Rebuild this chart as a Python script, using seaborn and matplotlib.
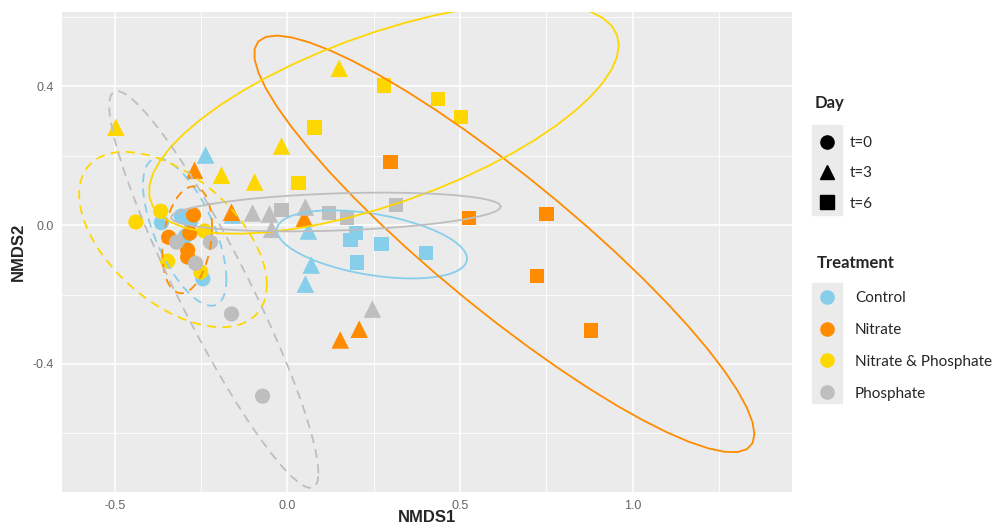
import numpy as np
import pandas as pd
import matplotlib
matplotlib.use("Agg")
import matplotlib.pyplot as plt
from matplotlib import font_manager
from matplotlib.lines import Line2D
from matplotlib.patches import Rectangle
import seaborn as sns

# ─── Data: NMDS scores per treatment ─────────────────────────────────────────
CONTROL_X   = [-0.365, -0.307, -0.295, -0.281, -0.245,
               -0.237, -0.159, 0.061, 0.069, 0.052,
               0.182, 0.199, 0.272, 0.202, 0.402]
CONTROL_Y   = [0.007, 0.026, -0.032, 0.010, -0.155,
               0.202, 0.029, -0.017, -0.115, -0.170,
               -0.043, -0.023, -0.055, -0.107, -0.081]
CONTROL_DAY = ["t=0"] * 5 + ["t=3"] * 5 + ["t=6"] * 5

NITRATE_X   = [-0.272, -0.283, -0.344, -0.289, -0.289,
               -0.269, -0.162, 0.049, 0.153, 0.208,
               0.298, 0.526, 0.751, 0.723, 0.879]
NITRATE_Y   = [0.029, -0.023, -0.035, -0.072, -0.092,
               0.158, 0.037, 0.020, -0.331, -0.300,
               0.182, 0.020, 0.032, -0.147, -0.303]
NITRATE_DAY = ["t=0"] * 5 + ["t=3"] * 5 + ["t=6"] * 5

NP_X   = [-0.439, -0.367, -0.347, -0.240, -0.251,
          -0.497, -0.191, -0.095, -0.017, 0.150,
          0.032, 0.078, 0.280, 0.436, 0.503]
NP_Y   = [0.009, 0.040, -0.104, -0.017, -0.135,
          0.282, 0.144, 0.124, 0.228, 0.452,
          0.121, 0.282, 0.403, 0.363, 0.311]
NP_DAY = ["t=0"] * 5 + ["t=3"] * 5 + ["t=6"] * 5

PHOSPHATE_X   = [-0.321, -0.266, -0.223, -0.162, -0.072,
                 -0.101, -0.052, -0.046, 0.052, 0.246,
                 -0.017, 0.121, 0.173, 0.315]
PHOSPHATE_Y   = [-0.049, -0.110, -0.049, -0.256, -0.493,
                 0.035, 0.032, -0.012, 0.052, -0.242,
                 0.043, 0.035, 0.020, 0.058]
PHOSPHATE_DAY = ["t=0"] * 5 + ["t=3"] * 5 + ["t=6"] * 4

TREATMENTS = ["Control", "Nitrate", "Nitrate & Phosphate", "Phosphate"]
DAYS = ["t=0", "t=3", "t=6"]

# ─── Style ───────────────────────────────────────────────────────────────────
COLORS = {"Control": "#87CEEB", "Nitrate": "#FF8C00",
          "Nitrate & Phosphate": "#FFD700", "Phosphate": "#BEBEBE"}
MARKERS = {"t=0": "o", "t=3": "^", "t=6": "s"}
SIZES = {"t=0": 120, "t=3": 160, "t=6": 110}

sns.set_theme(style="darkgrid")
names = {f.name for f in font_manager.fontManager.ttflist}
AXFONT = "Liberation Sans" if "Liberation Sans" in names else "DejaVu Sans"
LEGFONT = "Lato" if "Lato" in names else "DejaVu Sans"
plt.rcParams.update({
    "font.family": [AXFONT, "DejaVu Sans"],
    "axes.facecolor": "#EBEBEB",
    "figure.facecolor": "white",
})

frames = []
for name, xs, ys, ds in [("Control", CONTROL_X, CONTROL_Y, CONTROL_DAY),
                         ("Nitrate", NITRATE_X, NITRATE_Y, NITRATE_DAY),
                         ("Nitrate & Phosphate", NP_X, NP_Y, NP_DAY),
                         ("Phosphate", PHOSPHATE_X, PHOSPHATE_Y, PHOSPHATE_DAY)]:
    frames.append(pd.DataFrame({"NMDS1": xs, "NMDS2": ys, "Day": ds,
                                "Treatment": name}))
df = pd.concat(frames, ignore_index=True)


# ─── stat_ellipse (type = "t", level = 0.95) ─────────────────────────────────
def cov_trob(x, nu=5, maxit=25, tol=0.01):
    n, p = x.shape
    loc = x.mean(axis=0)
    w = np.ones(n)
    for _ in range(maxit):
        w0 = w
        X = x - loc
        _, d, vt = np.linalg.svd(np.sqrt(w / w.sum())[:, None] * X,
                                 full_matrices=False)
        wX = X @ vt.T @ np.diag(1 / d)
        Q = (wX ** 2).sum(axis=1)
        w = (nu + p) / (nu + Q)
        loc = (w[:, None] * x).sum(axis=0) / w.sum()
        if np.all(np.abs(w - w0) < tol):
            break
    sw = np.sqrt(w)[:, None] * X
    return loc, sw.T @ sw / n


def ellipse_path(x, level=0.95, segments=51):
    center, shape = cov_trob(x)
    dfd = len(x) - 1
    fq = (dfd / 2) * ((1 - level) ** (-2 / dfd) - 1)   # qf(level, 2, dfd)
    radius = np.sqrt(2 * fq)
    t = np.linspace(0, 2 * np.pi, segments + 1)
    circle = np.column_stack([np.cos(t), np.sin(t)])
    L = np.linalg.cholesky(shape)
    return center + radius * circle @ L.T


# ─── Figure ──────────────────────────────────────────────────────────────────
fig = plt.figure(figsize=(9.92, 5.25), dpi=100)
ax = fig.add_axes([0.0625, 0.063, 0.736, 0.914])

sns.scatterplot(data=df, x="NMDS1", y="NMDS2", hue="Treatment", style="Day",
                size="Day", sizes=SIZES, hue_order=TREATMENTS,
                style_order=DAYS, palette=COLORS, markers=MARKERS,
                linewidth=0, alpha=1, legend=False, ax=ax, zorder=3)

for tr in TREATMENTS:
    for day, ls in [("t=0", (0, (5, 3.5))), ("t=6", "-")]:
        sub = df[(df["Treatment"] == tr) & (df["Day"] == day)]
        pts = ellipse_path(sub[["NMDS1", "NMDS2"]].to_numpy())
        ax.plot(pts[:, 0], pts[:, 1], color=COLORS[tr], lw=1.3, ls=ls,
                zorder=4)

ax.set_xlim(-0.653, 1.462)
ax.set_ylim(-0.769, 0.614)
ax.set_xticks([-0.5, 0.0, 0.5, 1.0])
ax.set_xticklabels(["-0.5", "0.0", "0.5", "1.0"])
ax.set_xticks([-0.25, 0.25, 0.75, 1.25], minor=True)
ax.set_yticks([-0.4, 0.0, 0.4])
ax.set_yticklabels(["-0.4", "0.0", "0.4"])
ax.set_yticks([-0.6, -0.2, 0.2, 0.6], minor=True)
ax.grid(which="major", color="white", lw=1.1)
ax.grid(which="minor", color="white", lw=0.6)
for s in ax.spines.values():
    s.set_visible(False)
ax.tick_params(which="major", length=3, width=0.8, color="#555555",
               labelcolor="#666666", labelsize=9, pad=3)
ax.tick_params(which="minor", length=0)
ax.set_xlabel("NMDS1", fontsize=12, fontweight="bold")
ax.set_ylabel("NMDS2", fontsize=12, fontweight="bold")
ax.xaxis.set_label_coords(0.5, -0.053)
ax.xaxis.label.set_va("center")
ax.yaxis.set_label_coords(-0.060, 0.5)
ax.yaxis.label.set_va("center")

# ─── Legends ─────────────────────────────────────────────────────────────────
day_handles = [Line2D([], [], ls="", marker=MARKERS[d], color="black",
                      markersize=10.5 if d == "t=3" else 9.5) for d in DAYS]
tr_handles = [Line2D([], [], ls="", marker="o", color=COLORS[t],
                     markersize=9.5) for t in TREATMENTS]

fig.add_artist(Rectangle((0.8185, 0.5905), 0.0302, 0.1714,
                         transform=fig.transFigure, color="#EBEBEB", zorder=0))
fig.add_artist(Rectangle((0.8185, 0.2324), 0.0302, 0.2286,
                         transform=fig.transFigure, color="#EBEBEB", zorder=0))

fig.text(0.8215, 1 - 103 / 525, "Day", family=LEGFONT, fontsize=12,
         fontweight="bold", va="center", ha="left")
fig.text(0.8235, 1 - 263 / 525, "Treatment", family=LEGFONT, fontsize=12,
         fontweight="bold", va="center", ha="left")

fig.legend(day_handles, DAYS, loc="upper left",
           bbox_to_anchor=(0.8185, 1 - 136 / 525), frameon=False,
           borderpad=0, borderaxespad=0, handlelength=2.0,
           handletextpad=0.48, labelspacing=1.07,
           prop={"family": LEGFONT, "size": 11})
fig.legend(tr_handles, TREATMENTS, loc="upper left",
           bbox_to_anchor=(0.8185, 1 - 291 / 525), frameon=False,
           borderpad=0, borderaxespad=0, handlelength=2.0,
           handletextpad=0.81, labelspacing=1.17,
           prop={"family": LEGFONT, "size": 11})

fig.savefig("out.png", dpi=100)
